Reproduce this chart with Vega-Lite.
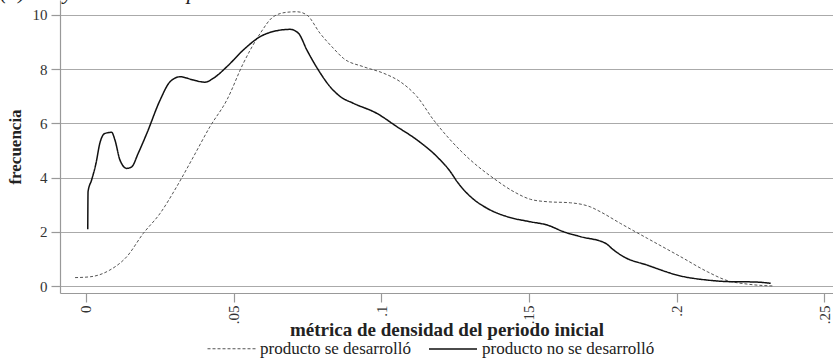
{
  "$schema": "https://vega.github.io/schema/vega-lite/v6.json",
  "autosize": {"type": "none"},
  "width": 773,
  "height": 293,
  "padding": {"left": 60, "top": 0, "right": 0, "bottom": 69},
  "background": "white",
  "title": {"text": "(a) Proyectos de campo", "anchor": "start", "frame": "group", "dx": -60, "offset": -4, "font": "Liberation Serif", "fontStyle": "italic", "fontWeight": "normal", "fontSize": 22, "color": "#222"},
  "config": {
    "view": {"stroke": null},
    "font": "Liberation Serif",
    "axis": {"labelFont": "Liberation Serif", "titleFont": "Liberation Serif", "labelColor": "#333", "titleColor": "#222", "domainColor": "#999", "tickColor": "#999", "gridColor": "#aaa", "gridWidth": 1.2, "domainWidth": 1.2, "tickWidth": 1.2}
  },
  "data": {"values": [
    {"s": "producto se desarrolló", "x": -0.0037, "y": 0.31},
    {"s": "producto se desarrolló", "x": 0.0014, "y": 0.34},
    {"s": "producto se desarrolló", "x": 0.0081, "y": 0.59},
    {"s": "producto se desarrolló", "x": 0.0138, "y": 1.08},
    {"s": "producto se desarrolló", "x": 0.0194, "y": 1.94},
    {"s": "producto se desarrolló", "x": 0.0251, "y": 2.68},
    {"s": "producto se desarrolló", "x": 0.0307, "y": 3.66},
    {"s": "producto se desarrolló", "x": 0.0364, "y": 4.77},
    {"s": "producto se desarrolló", "x": 0.0420, "y": 5.88},
    {"s": "producto se desarrolló", "x": 0.0477, "y": 6.86},
    {"s": "producto se desarrolló", "x": 0.0533, "y": 8.22},
    {"s": "producto se desarrolló", "x": 0.0590, "y": 9.32},
    {"s": "producto se desarrolló", "x": 0.0635, "y": 9.94},
    {"s": "producto se desarrolló", "x": 0.0680, "y": 10.10},
    {"s": "producto se desarrolló", "x": 0.0714, "y": 10.12},
    {"s": "producto se desarrolló", "x": 0.0748, "y": 10.0},
    {"s": "producto se desarrolló", "x": 0.0793, "y": 9.32},
    {"s": "producto se desarrolló", "x": 0.0838, "y": 8.77},
    {"s": "producto se desarrolló", "x": 0.0872, "y": 8.40},
    {"s": "producto se desarrolló", "x": 0.0940, "y": 8.09},
    {"s": "producto se desarrolló", "x": 0.1008, "y": 7.85},
    {"s": "producto se desarrolló", "x": 0.1064, "y": 7.54},
    {"s": "producto se desarrolló", "x": 0.1121, "y": 6.99},
    {"s": "producto se desarrolló", "x": 0.1177, "y": 6.13},
    {"s": "producto se desarrolló", "x": 0.1234, "y": 5.39},
    {"s": "producto se desarrolló", "x": 0.1302, "y": 4.65},
    {"s": "producto se desarrolló", "x": 0.1381, "y": 3.97},
    {"s": "producto se desarrolló", "x": 0.1449, "y": 3.48},
    {"s": "producto se desarrolló", "x": 0.1505, "y": 3.20},
    {"s": "producto se desarrolló", "x": 0.1562, "y": 3.11},
    {"s": "producto se desarrolló", "x": 0.1641, "y": 3.07},
    {"s": "producto se desarrolló", "x": 0.1708, "y": 2.92},
    {"s": "producto se desarrolló", "x": 0.1742, "y": 2.74},
    {"s": "producto se desarrolló", "x": 0.1810, "y": 2.31},
    {"s": "producto se desarrolló", "x": 0.1901, "y": 1.76},
    {"s": "producto se desarrolló", "x": 0.2014, "y": 1.08},
    {"s": "producto se desarrolló", "x": 0.2104, "y": 0.53},
    {"s": "producto se desarrolló", "x": 0.2172, "y": 0.20},
    {"s": "producto se desarrolló", "x": 0.2240, "y": 0.07},
    {"s": "producto se desarrolló", "x": 0.2330, "y": 0.0},
    {"s": "producto no se desarrolló", "x": 0.0006, "y": 2.09},
    {"s": "producto no se desarrolló", "x": 0.0007, "y": 3.48},
    {"s": "producto no se desarrolló", "x": 0.0019, "y": 3.91},
    {"s": "producto no se desarrolló", "x": 0.0034, "y": 4.53},
    {"s": "producto no se desarrolló", "x": 0.0047, "y": 5.27},
    {"s": "producto no se desarrolló", "x": 0.0064, "y": 5.63},
    {"s": "producto no se desarrolló", "x": 0.0087, "y": 5.67},
    {"s": "producto no se desarrolló", "x": 0.0098, "y": 5.39},
    {"s": "producto no se desarrolló", "x": 0.0115, "y": 4.65},
    {"s": "producto no se desarrolló", "x": 0.0138, "y": 4.34},
    {"s": "producto no se desarrolló", "x": 0.0155, "y": 4.40},
    {"s": "producto no se desarrolló", "x": 0.0177, "y": 4.90},
    {"s": "producto no se desarrolló", "x": 0.0206, "y": 5.63},
    {"s": "producto no se desarrolló", "x": 0.0251, "y": 6.86},
    {"s": "producto no se desarrolló", "x": 0.0285, "y": 7.54},
    {"s": "producto no se desarrolló", "x": 0.0319, "y": 7.72},
    {"s": "producto no se desarrolló", "x": 0.0364, "y": 7.60},
    {"s": "producto no se desarrolló", "x": 0.0403, "y": 7.52},
    {"s": "producto no se desarrolló", "x": 0.0432, "y": 7.67},
    {"s": "producto no se desarrolló", "x": 0.0477, "y": 8.09},
    {"s": "producto no se desarrolló", "x": 0.0533, "y": 8.71},
    {"s": "producto no se desarrolló", "x": 0.0590, "y": 9.20},
    {"s": "producto no se desarrolló", "x": 0.0646, "y": 9.42},
    {"s": "producto no se desarrolló", "x": 0.0692, "y": 9.47},
    {"s": "producto no se desarrolló", "x": 0.0720, "y": 9.32},
    {"s": "producto no se desarrolló", "x": 0.0748, "y": 8.71},
    {"s": "producto no se desarrolló", "x": 0.0787, "y": 7.97},
    {"s": "producto no se desarrolló", "x": 0.0827, "y": 7.35},
    {"s": "producto no se desarrolló", "x": 0.0861, "y": 6.99},
    {"s": "producto no se desarrolló", "x": 0.0906, "y": 6.74},
    {"s": "producto no se desarrolló", "x": 0.0985, "y": 6.37},
    {"s": "producto no se desarrolló", "x": 0.1053, "y": 5.88},
    {"s": "producto no se desarrolló", "x": 0.1121, "y": 5.39},
    {"s": "producto no se desarrolló", "x": 0.1189, "y": 4.77},
    {"s": "producto no se desarrolló", "x": 0.1234, "y": 4.22},
    {"s": "producto no se desarrolló", "x": 0.1257, "y": 3.85},
    {"s": "producto no se desarrolló", "x": 0.1302, "y": 3.30},
    {"s": "producto no se desarrolló", "x": 0.1358, "y": 2.87},
    {"s": "producto no se desarrolló", "x": 0.1426, "y": 2.56},
    {"s": "producto no se desarrolló", "x": 0.1505, "y": 2.37},
    {"s": "producto no se desarrolló", "x": 0.1562, "y": 2.25},
    {"s": "producto no se desarrolló", "x": 0.1618, "y": 2.00},
    {"s": "producto no se desarrolló", "x": 0.1675, "y": 1.82},
    {"s": "producto no se desarrolló", "x": 0.1759, "y": 1.58},
    {"s": "producto no se desarrolló", "x": 0.1787, "y": 1.33},
    {"s": "producto no se desarrolló", "x": 0.1821, "y": 1.08},
    {"s": "producto no se desarrolló", "x": 0.1901, "y": 0.77},
    {"s": "producto no se desarrolló", "x": 0.2014, "y": 0.37},
    {"s": "producto no se desarrolló", "x": 0.2104, "y": 0.22},
    {"s": "producto no se desarrolló", "x": 0.2183, "y": 0.16},
    {"s": "producto no se desarrolló", "x": 0.2262, "y": 0.15},
    {"s": "producto no se desarrolló", "x": 0.2319, "y": 0.10}
  ]},
  "mark": {"type": "line", "interpolate": "monotone"},
  "encoding": {
    "x": {"field": "x", "type": "quantitative", "scale": {"domain": [-0.0088, 0.253], "nice": false, "zero": false},
      "axis": {"values": [0, 0.05, 0.1, 0.15, 0.2, 0.25], "grid": false, "tickSize": 9, "labelAngle": -90, "labelPadding": 3, "labelFontSize": 15,
        "labelExpr": "datum.value == 0 ? '0' : replace(format(datum.value, '.2~f'), '0.', '.')",
        "title": "métrica de densidad del periodo inicial", "titleFontSize": 19, "titleFontWeight": "bold", "titlePadding": -3}},
    "y": {"field": "y", "type": "quantitative", "scale": {"domain": [-0.258, 10.553], "nice": false, "zero": false},
      "axis": {"values": [0, 2, 4, 6, 8, 10], "grid": true, "tickSize": 9, "labelPadding": 4, "labelFontSize": 15,
        "title": "frecuencia", "titleFontSize": 17, "titleFontWeight": "bold", "titlePadding": 8}},
    "order": {"field": "x", "type": "quantitative"},
    "strokeDash": {"field": "s", "type": "nominal", "scale": {"domain": ["producto se desarrolló", "producto no se desarrolló"], "range": [[3, 2], [1, 0]]},
      "legend": {"orient": "none", "legendX": 147, "legendY": 324, "direction": "horizontal", "title": null, "symbolType": "stroke", "symbolSize": 2304, "labelFont": "Liberation Serif", "labelFontSize": 17, "labelLimit": 400, "labelColor": "#222", "columnPadding": 14, "labelOffset": 4, "padding": 0}},
    "color": {"field": "s", "type": "nominal", "scale": {"domain": ["producto se desarrolló", "producto no se desarrolló"], "range": ["#555555", "#111111"]}},
    "strokeWidth": {"field": "s", "type": "nominal", "scale": {"domain": ["producto se desarrolló", "producto no se desarrolló"], "range": [1, 1.5]}}
  }
}
